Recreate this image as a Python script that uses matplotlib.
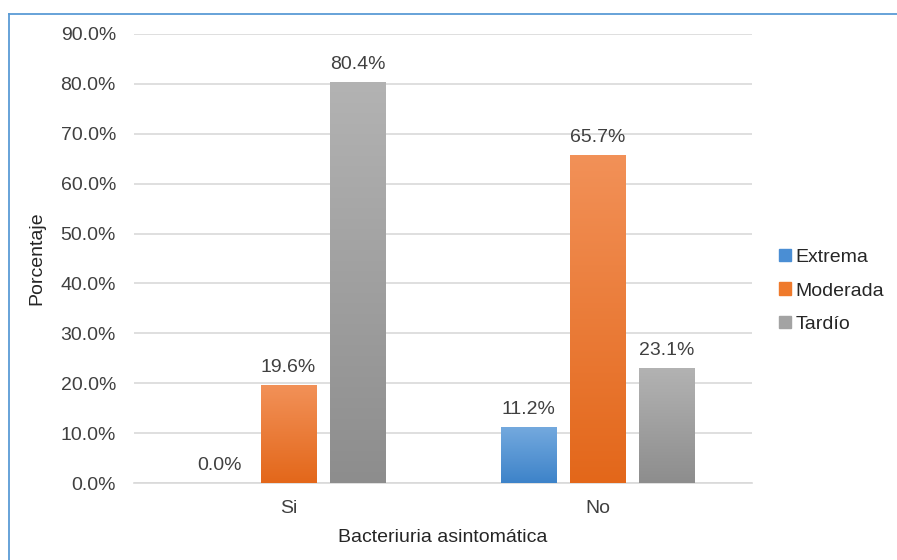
import numpy as np
import matplotlib
matplotlib.use("Agg")
import matplotlib.pyplot as plt
from matplotlib.colors import LinearSegmentedColormap
from matplotlib.patches import Rectangle
from matplotlib.lines import Line2D

plt.rcParams['font.family'] = ['Liberation Sans', 'DejaVu Sans']

categories = ["Si", "No"]
series_names = ["Extrema", "Moderada", "Tardío"]
extrema = [0.0, 11.2]
moderada = [19.6, 65.7]
tardio = [80.4, 23.1]
yticks = [0, 10, 20, 30, 40, 50, 60, 70, 80, 90]

# (top colour, bottom colour, legend colour)
colors = [
    ("#74a9de", "#3d83c9", "#4a8ed4"),
    ("#f29158", "#e3671a", "#ef7a2c"),
    ("#b3b3b3", "#8d8d8d", "#a3a3a3"),
]

FS = 14
TXT = "#404040"

fig = plt.figure(figsize=(8.97, 5.6), dpi=100)
ax = fig.add_axes([134 / 897, 1 - 483 / 560, (752 - 134) / 897, (483 - 34) / 560])

x = np.arange(len(categories))
width = 0.178
step = 0.224
all_series = [extrema, moderada, tardio]

for i, vals in enumerate(all_series):
    pos = x + (i - 1) * step
    bars = ax.bar(pos, vals, width, color=colors[i][2], zorder=2, linewidth=0)
    cmap = LinearSegmentedColormap.from_list("g%d" % i, [colors[i][1], colors[i][0]])
    grad = np.linspace(0, 1, 256).reshape(-1, 1)
    for b, v in zip(bars, vals):
        x0 = b.get_x()
        if v > 0:
            im = ax.imshow(grad, cmap=cmap, origin="lower", aspect="auto",
                           extent=(x0, x0 + width, 0, v), zorder=3,
                           interpolation="bilinear")
            im.set_clip_path(b)
        ax.annotate(f"{v:.1f}%", (x0 + width / 2, v), xytext=(0, 6.5),
                    textcoords="offset points", ha="center", va="bottom",
                    fontsize=FS, color=TXT, zorder=4)

ax.set_xlim(-0.5, 1.5)
ax.set_ylim(0, 90)
ax.set_yticks(yticks)
ax.set_yticklabels([f"{t:.1f}%" for t in yticks])
ax.set_xticks(x)
ax.set_xticklabels(categories)
ax.tick_params(axis="both", length=0, labelsize=FS, labelcolor=TXT)
ax.tick_params(axis="y", pad=13)
ax.tick_params(axis="x", pad=12)
ax.yaxis.grid(True, color="#d9d9d9", linewidth=1.2, zorder=0)
ax.set_axisbelow(True)
for s in ["top", "right", "left"]:
    ax.spines[s].set_visible(False)
ax.spines["bottom"].set_color("#d9d9d9")
ax.spines["bottom"].set_linewidth(1.2)

ax.set_ylabel("Porcentaje", fontsize=FS, color="#262626", labelpad=11)
ax.set_xlabel("Bacteriuria asintomática", fontsize=FS, color="#262626", labelpad=9)

handles = [Rectangle((0, 0), 1, 1, color=c[2]) for c in colors]
leg = fig.legend(handles, series_names, loc="center left",
                 bbox_to_anchor=(779 / 897, 1 - 291 / 560), frameon=False,
                 fontsize=FS, handlelength=0.6, handleheight=0.6,
                 handletextpad=0.25, labelspacing=0.85, borderaxespad=0,
                 borderpad=0)
for t in leg.get_texts():
    t.set_color("#262626")

# chart frame lines
fig.add_artist(Line2D([8.5 / 897, 8.5 / 897], [0, 1 - 13.5 / 560],
                      transform=fig.transFigure, color="#5b9bd5", linewidth=1.3))
fig.add_artist(Line2D([8.5 / 897, 1], [1 - 13.5 / 560, 1 - 13.5 / 560],
                      transform=fig.transFigure, color="#5b9bd5", linewidth=1.3))

fig.savefig("out.png", dpi=100)
